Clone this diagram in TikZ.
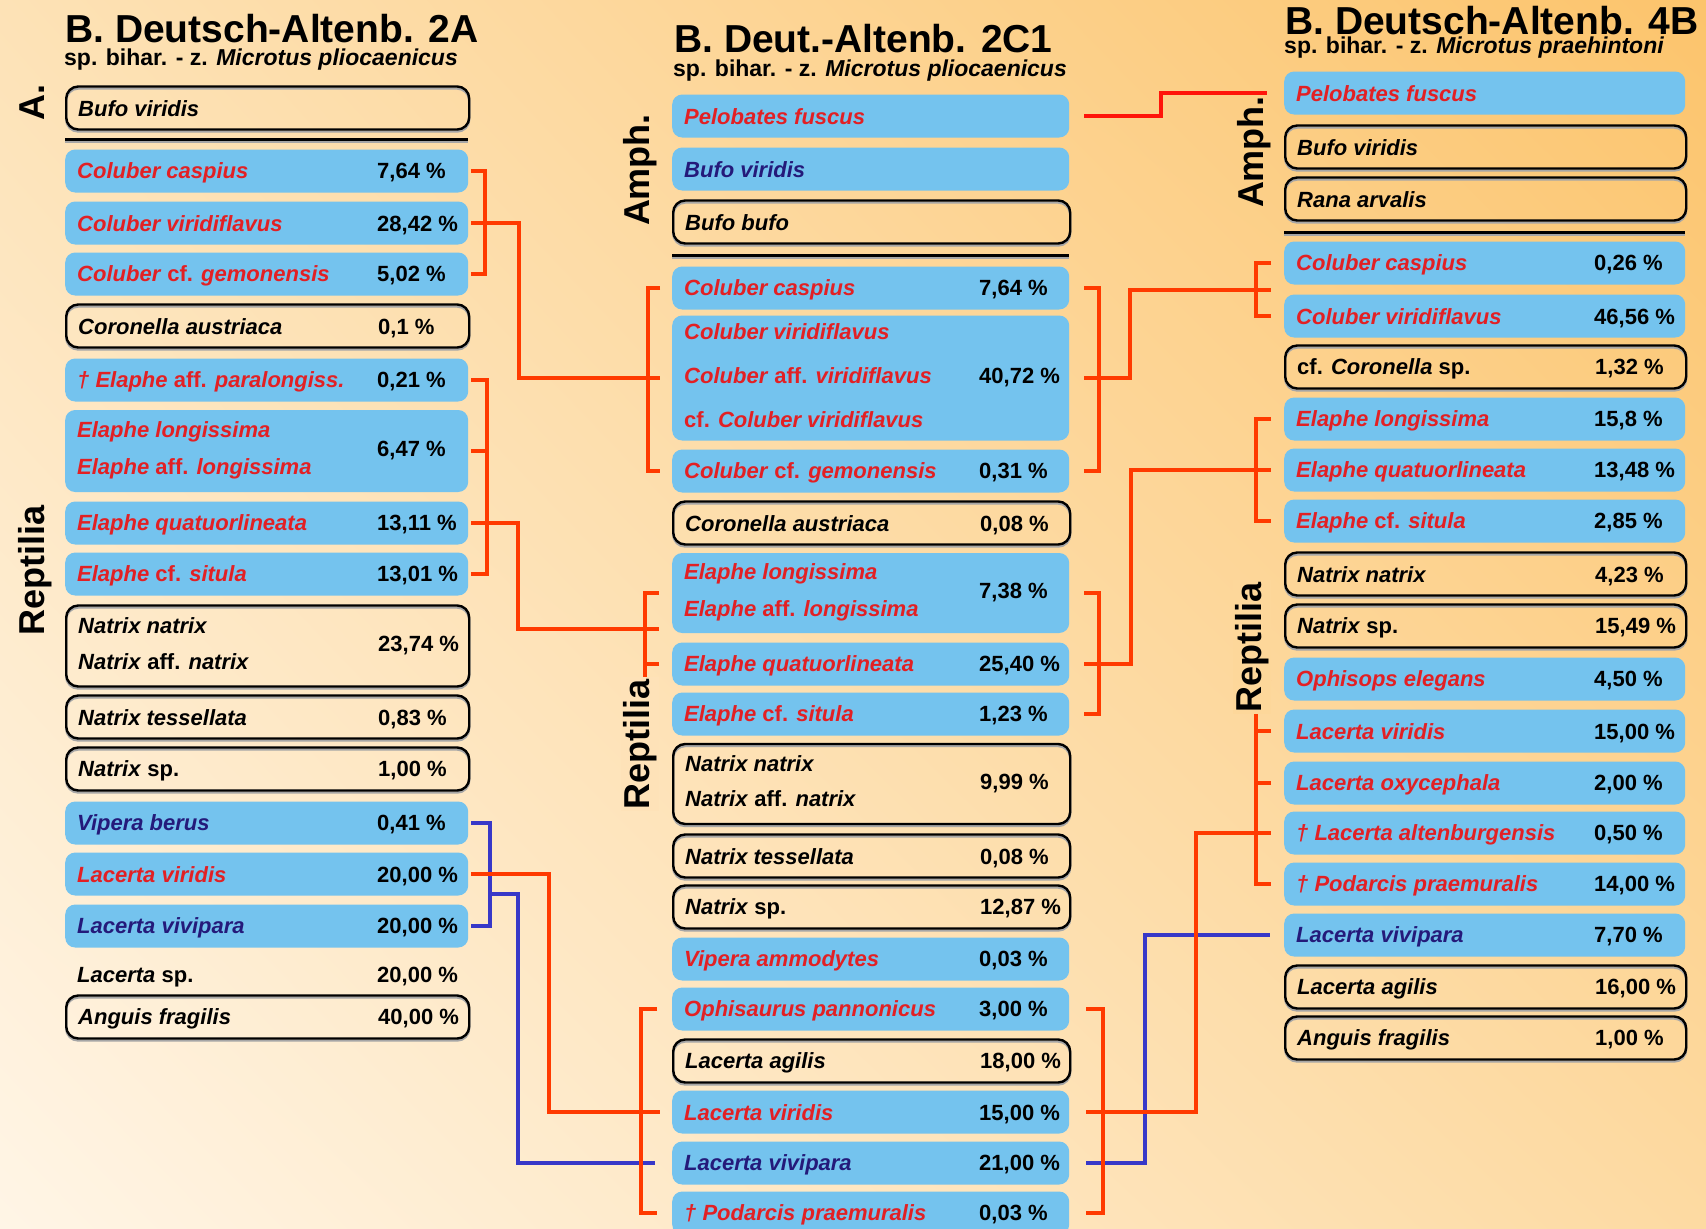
\documentclass[tikz,border=0pt]{standalone}
\usepackage{fontspec}
\setmainfont{Liberation Sans}
\usetikzlibrary{positioning, calc, shadings}

\definecolor{skyb}{RGB}{116,195,238}
\definecolor{spred}{RGB}{226,32,36}
\definecolor{spnavy}{RGB}{36,26,122}
\definecolor{linkred}{RGB}{255,58,0}
\definecolor{linkpure}{RGB}{255,20,10}
\definecolor{linkblue}{RGB}{56,56,200}
\definecolor{bgtl}{RGB}{253,226,182}
\definecolor{bgtr}{RGB}{252,196,108}
\definecolor{bgbl}{RGB}{255,245,230}
\definecolor{bgbr}{RGB}{253,218,162}
\definecolor{bgmidB}{RGB}{254,226,184}
\definecolor{bgmidC}{RGB}{253,215,154}

% one species row: name, then the share at a fixed tab
\newcommand{\rowwd}{379pt}
\newcommand{\pctx}{300pt}
\newcommand{\taxon}[2]{\makebox[\rowwd][l]{\rule[-4pt]{0pt}{24pt}\makebox[\pctx][l]{#1}\textcolor{black}{#2}}}
\newcommand{\taxa}[2]{\makebox[\rowwd][l]{\makebox[\pctx][l]{\begin{tabular}{@{}l@{}}#1\end{tabular}}\textcolor{black}{#2}}}

\begin{document}
\begin{tikzpicture}[x=1pt, y=-1pt,
    taxbox/.style={rectangle, anchor=west, minimum height=43pt, inner xsep=12pt,
                   inner ysep=0pt, font=\fontsize{22}{26}\selectfont\bfseries},
    blu/.style={taxbox, fill=skyb, rounded corners=10pt},
    frm/.style={taxbox, draw=black, line width=2.4pt, rounded corners=12pt,
                preaction={draw=black!35, transform canvas={yshift=-2pt}}},
    bare/.style={taxbox},
    rd/.style={text=spred},
    nv/.style={text=spnavy},
    rlink/.style={draw=linkred, line width=4pt},
    blink/.style={draw=linkblue, line width=4pt},
    coltitle/.style={anchor=base west, inner sep=0pt, font=\fontsize{39}{42}\selectfont\bfseries},
    colsub/.style={anchor=base west, inner sep=0pt, font=\fontsize{23}{26}\selectfont\bfseries},
    grplabel/.style={rotate=90, inner sep=2pt, font=\fontsize{36}{40}\selectfont\bfseries},
    sepline/.style={line width=3pt}
]
    \clip (0,0) rectangle (1706,1229);
    \shade[upper left=bgtl, upper right=bgtr, lower left=bgbl, lower right=bgbr]
        (0,0) rectangle (1706,1229);

    % ---- locality 2A
    \node[coltitle] (aT) at (65,42) {B. Deutsch-Altenb. 2A};
    \node[colsub] (aS) at (64,65) {sp. bihar. - z. \textit{Microtus pliocaenicus}};
    \node[grplabel] (aAmph) at (32,102) {A.};
    \node[grplabel] (aRept) at (35,570) {Reptilia};

    \node[frm] (aBv) at (65,108) {\taxon{\textit{Bufo viridis}}{}};
    \draw[black!35, line width=2pt] (65,142) -- (468,142);
    \draw[sepline] (65,139) -- (468,139);
    \node[blu, rd] (aCc) at (65,171) {\taxon{\textit{Coluber caspius}}{7,64 \%}};
    \node[blu, rd] (aCv) at (65,223) {\taxon{\textit{Coluber viridiflavus}}{28,42 \%}};
    \node[blu, rd] (aCg) at (65,274) {\taxon{\textit{Coluber} cf. \textit{gemonensis}}{5,02 \%}};
    \node[frm] (aCa) at (65,326) {\taxon{\textit{Coronella austriaca}}{0,1 \%}};
    \node[blu, rd] (aEp) at (65,380) {\taxon{\textit{† Elaphe} aff. \textit{paralongiss.}}{0,21 \%}};
    \node[blu, rd, minimum height=82pt] (aEl) at (65,451)
        {\taxa{\textit{Elaphe longissima}\\[11pt]\textit{Elaphe} aff. \textit{longissima}}{6,47 \%}};
    \node[blu, rd] (aEq) at (65,523) {\taxon{\textit{Elaphe quatuorlineata}}{13,11 \%}};
    \node[blu, rd] (aEs) at (65,574) {\taxon{\textit{Elaphe} cf. \textit{situla}}{13,01 \%}};
    \node[frm, minimum height=81pt] (aNn) at (65,646)
        {\taxa{\textit{Natrix natrix}\\[10pt]\textit{Natrix} aff. \textit{natrix}}{23,74 \%}};
    \node[frm] (aNt) at (65,717) {\taxon{\textit{Natrix tessellata}}{0,83 \%}};
    \node[frm] (aNs) at (65,769) {\taxon{\textit{Natrix} sp.}{1,00 \%}};
    \node[blu, nv] (aVb) at (65,823) {\taxon{\textit{Vipera berus}}{0,41 \%}};
    \node[blu, rd] (aLvi) at (65,874) {\taxon{\textit{Lacerta viridis}}{20,00 \%}};
    \node[blu, nv] (aLvv) at (65,926) {\taxon{\textit{Lacerta vivipara}}{20,00 \%}};
    \node[bare] (aLs) at (65,975) {\taxon{\textit{Lacerta} sp.}{20,00 \%}};
    \node[frm] (aAf) at (65,1017) {\taxon{\textit{Anguis fragilis}}{40,00 \%}};

    % ---- locality 2C1
    \renewcommand{\rowwd}{373pt}\renewcommand{\pctx}{295pt}
    \node[coltitle] (bT) at (674,52) {B. Deut.-Altenb. 2C1};
    \node[colsub] (bS) at (673,76) {sp. bihar. - z. \textit{Microtus pliocaenicus}};
    \node[grplabel] (bAmph) at (640,170) {Amph.};

    \node[blu, rd] (bPf) at (672,116) {\taxon{\textit{Pelobates fuscus}}{}};
    \node[blu, nv] (bBv) at (672,169) {\taxon{\textit{Bufo viridis}}{}};
    \node[frm] (bBb) at (672,222) {\taxon{\textit{Bufo bufo}}{}};
    \draw[black!35, line width=2pt] (672,258) -- (1069,258);
    \draw[sepline] (672,255) -- (1069,255);
    \node[blu, rd] (bCc) at (672,288) {\taxon{\textit{Coluber caspius}}{7,64 \%}};
    \node[blu, rd, minimum height=125pt] (bCv) at (672,378)
        {\taxa{\textit{Coluber viridiflavus}\\[18pt]\textit{Coluber} aff. \textit{viridiflavus}\\[18pt]cf. \textit{Coluber viridiflavus}}{40,72 \%}};
    \node[blu, rd] (bCg) at (672,471) {\taxon{\textit{Coluber} cf. \textit{gemonensis}}{0,31 \%}};
    \node[frm] (bCa) at (672,523) {\taxon{\textit{Coronella austriaca}}{0,08 \%}};
    \node[blu, rd, minimum height=80pt] (bEl) at (672,593)
        {\taxa{\textit{Elaphe longissima}\\[11pt]\textit{Elaphe} aff. \textit{longissima}}{7,38 \%}};
    \node[blu, rd] (bEq) at (672,664) {\taxon{\textit{Elaphe quatuorlineata}}{25,40 \%}};
    \node[blu, rd] (bEs) at (672,714) {\taxon{\textit{Elaphe} cf. \textit{situla}}{1,23 \%}};
    \node[frm, minimum height=80pt] (bNn) at (672,784)
        {\taxa{\textit{Natrix natrix}\\[9pt]\textit{Natrix} aff. \textit{natrix}}{9,99 \%}};
    \node[frm] (bNt) at (672,856) {\taxon{\textit{Natrix tessellata}}{0,08 \%}};
    \node[frm] (bNs) at (672,907) {\taxon{\textit{Natrix} sp.}{12,87 \%}};
    \node[blu, rd] (bVa) at (672,959) {\taxon{\textit{Vipera ammodytes}}{0,03 \%}};
    \node[blu, rd] (bOp) at (672,1009) {\taxon{\textit{Ophisaurus pannonicus}}{3,00 \%}};
    \node[frm] (bLa) at (672,1061) {\taxon{\textit{Lacerta agilis}}{18,00 \%}};
    \node[blu, rd] (bLvi) at (672,1112) {\taxon{\textit{Lacerta viridis}}{15,00 \%}};
    \node[blu, nv] (bLvv) at (672,1163) {\taxon{\textit{Lacerta vivipara}}{21,00 \%}};
    \node[blu, rd] (bPp) at (672,1213) {\taxon{\textit{† Podarcis praemuralis}}{0,03 \%}};

    % ---- locality 4B
    \renewcommand{\rowwd}{377pt}\renewcommand{\pctx}{298pt}
    \node[coltitle] (cT) at (1285,34) {B. Deutsch-Altenb. 4B};
    \node[colsub] (cS) at (1284,53) {sp. bihar. - z. \textit{Microtus praehintoni}};
    \node[grplabel] (cAmph) at (1254,152) {Amph.};

    \node[blu, rd] (cPf) at (1284,93) {\taxon{\textit{Pelobates fuscus}}{}};
    \node[frm] (cBv) at (1284,147) {\taxon{\textit{Bufo viridis}}{}};
    \node[frm] (cRa) at (1284,199) {\taxon{\textit{Rana arvalis}}{}};
    \draw[black!35, line width=2pt] (1284,235) -- (1685,235);
    \draw[sepline] (1284,232) -- (1685,232);
    \node[blu, rd] (cCc) at (1284,263) {\taxon{\textit{Coluber caspius}}{0,26 \%}};
    \node[blu, rd] (cCv) at (1284,316) {\taxon{\textit{Coluber viridiflavus}}{46,56 \%}};
    \node[frm] (cCs) at (1284,367) {\taxon{cf. \textit{Coronella} sp.}{1,32 \%}};
    \node[blu, rd] (cEl) at (1284,419) {\taxon{\textit{Elaphe longissima}}{15,8 \%}};
    \node[blu, rd] (cEq) at (1284,470) {\taxon{\textit{Elaphe quatuorlineata}}{13,48 \%}};
    \node[blu, rd] (cEs) at (1284,521) {\taxon{\textit{Elaphe} cf. \textit{situla}}{2,85 \%}};
    \node[frm] (cNn) at (1284,574) {\taxon{\textit{Natrix natrix}}{4,23 \%}};
    \node[frm] (cNs) at (1284,626) {\taxon{\textit{Natrix} sp.}{15,49 \%}};
    \node[blu, rd] (cOe) at (1284,679) {\taxon{\textit{Ophisops elegans}}{4,50 \%}};
    \node[blu, rd] (cLvi) at (1284,731) {\taxon{\textit{Lacerta viridis}}{15,00 \%}};
    \node[blu, rd] (cLo) at (1284,783) {\taxon{\textit{Lacerta oxycephala}}{2,00 \%}};
    \node[blu, rd] (cLal) at (1284,833) {\taxon{\textit{† Lacerta altenburgensis}}{0,50 \%}};
    \node[blu, rd] (cPp) at (1284,884) {\taxon{\textit{† Podarcis praemuralis}}{14,00 \%}};
    \node[blu, nv] (cLvv) at (1284,935) {\taxon{\textit{Lacerta vivipara}}{7,70 \%}};
    \node[frm] (cLag) at (1284,987) {\taxon{\textit{Lacerta agilis}}{16,00 \%}};
    \node[frm] (cAf) at (1284,1038) {\taxon{\textit{Anguis fragilis}}{1,00 \%}};

    % ---- links: blue first, red on top
    \draw[blink] ([xshift=3pt]aVb.east) -- ++(19,0) |- ([xshift=3pt]aLvv.east);
    \draw[blink] ($(aVb.east)!0.5!(aLvv.east)+(22,19)$) -- ++(28,0) |- ([xshift=-17pt]bLvv.west);
    \draw[blink] ([xshift=17pt]bLvv.east) -- ++(59,0) |- ([xshift=-14pt]cLvv.west);

    % Coluber
    \draw[rlink] ([xshift=3pt]aCc.east) -- ++(14,0) |- ([xshift=3pt]aCg.east);
    \draw[rlink] ([xshift=3pt]aCv.east) -- ++(48,0) |- ([xshift=-12pt]bCv.west);
    \draw[rlink] ([xshift=-12pt]bCc.west) -- ++(-12,0) |- ([xshift=-12pt]bCg.west);
    \draw[rlink] ([xshift=15pt]bCc.east) -- ++(15,0) |- ([xshift=15pt]bCg.east);
    \draw[rlink] ([xshift=15pt]bCv.east) -- ++(46,0) |- ($(cCc.west)!0.5!(cCv.west)+(-13,0)$);
    \draw[rlink] ([xshift=-13pt]cCc.west) -- ++(-15,0) |- ([xshift=-13pt]cCv.west);

    % Elaphe
    \draw[rlink] ([xshift=3pt]aEp.east) -- ++(16,0) |- ([xshift=3pt]aEs.east);
    \draw[rlink] ([xshift=3pt]aEl.east) -- ++(16,0);
    \draw[rlink] ([xshift=3pt]aEq.east) -- ++(47,0) |- ($(bEl.west)!0.5!(bEq.west)+(-13,0)$);
    \draw[rlink] ([xshift=-13pt]bEl.west) -- ++(-14,0) |- ([xshift=-13pt]bEs.west);
    \draw[rlink] ([xshift=-13pt]bEq.west) -- ++(-14,0);
    \draw[rlink] ([xshift=15pt]bEl.east) -- ++(15,0) |- ([xshift=15pt]bEs.east);
    \draw[rlink] ([xshift=15pt]bEq.east) -- ++(47,0) |- ([xshift=-13pt]cEq.west);
    \draw[rlink] ([xshift=-13pt]cEl.west) -- ++(-15,0) |- ([xshift=-13pt]cEs.west);

    % Lacerta
    \draw[rlink] ([xshift=3pt]aLvi.east) -- ++(78,0) |- ([xshift=-12pt]bLvi.west);
    \draw[rlink] ([xshift=-15pt]bOp.west) -- ++(-16,0) |- ([xshift=-15pt]bPp.west);
    \draw[rlink] ([xshift=17pt]bOp.east) -- ++(17,0) |- ([xshift=17pt]bPp.east);
    \draw[rlink] ([xshift=17pt]bLvi.east) -- ++(110,0) |- ([xshift=-13pt]cLal.west);
    \draw[rlink] ([xshift=-13pt]cOe.west) -- ++(-15,0) |- ([xshift=-13pt]cPp.west);
    \draw[rlink] ([xshift=-13pt]cLvi.west) -- ++(-15,0);
    \draw[rlink] ([xshift=-13pt]cLo.west) -- ++(-15,0);

    % Pelobates
    \draw[rlink, draw=linkpure] ([xshift=15pt]bPf.east) -- ++(77,0) |- ([xshift=-17pt]cPf.west);

    % group labels over the brackets
    \node[grplabel, fill=bgmidB] (bRept) at (640,744) {Reptilia};
    \node[grplabel, fill=bgmidC] (cRept) at (1252,647) {Reptilia};
\end{tikzpicture}
\end{document}
